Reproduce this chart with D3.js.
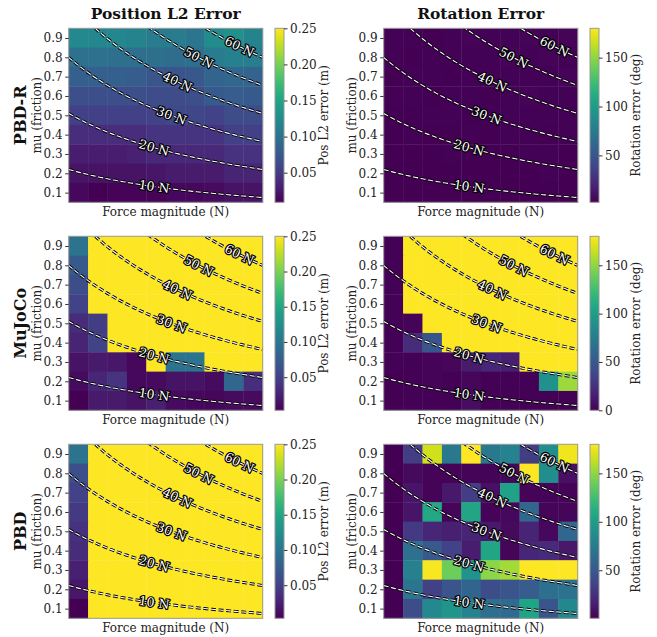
<!DOCTYPE html>
<html>
<head>
<meta charset="utf-8">
<script src="https://cdn.jsdelivr.net/npm/d3@7"></script>
<style>
  body { margin: 0; background: #fff; }
  text { font-family: "DejaVu Serif", serif; }
</style>
</head>
<body>
<script>
// friction rows, top (0.9) to bottom (0.1)
const muRows = [0.9, 0.8, 0.7, 0.6, 0.5, 0.4, 0.3, 0.2, 0.1];
// force magnitude bins (no tick labels on the x axis)
const forceBins = [0, 1, 2, 3, 4, 5, 6, 7, 8, 9];
const muTicks = [0.1, 0.2, 0.3, 0.4, 0.5, 0.6, 0.7, 0.8, 0.9];
const posTicks = [0.05, 0.10, 0.15, 0.20, 0.25];
const rotTicks = [0, 50, 100, 150];
const contourLevels = [10, 20, 30, 40, 50, 60];
// where each contour label sits, as a fraction of the force axis
const labelAt = [0.44, 0.44, 0.53, 0.56, 0.67, 0.88];

const methods = ["PBD-R", "MuJoCo", "PBD"];
const posMax = 0.25, rotMax = 180;

// position L2 error (m); values above 0.25 are saturated
const posPBDR = [
  [0.122, 0.120, 0.120, 0.117, 0.108, 0.108, 0.103, 0.125, 0.130, 0.117],
  [0.098, 0.098, 0.096, 0.096, 0.096, 0.093, 0.096, 0.108, 0.113, 0.110],
  [0.081, 0.081, 0.081, 0.079, 0.072, 0.072, 0.074, 0.086, 0.089, 0.086],
  [0.067, 0.067, 0.067, 0.067, 0.064, 0.064, 0.067, 0.076, 0.079, 0.076],
  [0.055, 0.055, 0.055, 0.055, 0.057, 0.062, 0.060, 0.057, 0.064, 0.064],
  [0.040, 0.040, 0.040, 0.040, 0.045, 0.045, 0.045, 0.045, 0.055, 0.055],
  [0.028, 0.028, 0.028, 0.031, 0.036, 0.036, 0.036, 0.036, 0.043, 0.043],
  [0.021, 0.021, 0.021, 0.021, 0.023, 0.026, 0.026, 0.026, 0.033, 0.033],
  [0.014, 0.009, 0.011, 0.011, 0.011, 0.014, 0.014, 0.016, 0.021, 0.021]
];
const posMuJoCo = [
  [0.097, 0.42, 0.45, 0.47, 0.50, 0.52, 0.55, 0.58, 0.60, 0.62],
  [0.072, 0.38, 0.41, 0.44, 0.47, 0.50, 0.52, 0.55, 0.57, 0.60],
  [0.060, 0.35, 0.38, 0.41, 0.44, 0.46, 0.49, 0.52, 0.54, 0.57],
  [0.052, 0.32, 0.35, 0.38, 0.40, 0.43, 0.46, 0.48, 0.51, 0.53],
  [0.033, 0.047, 0.31, 0.34, 0.37, 0.40, 0.42, 0.45, 0.48, 0.50],
  [0.028, 0.052, 0.28, 0.31, 0.34, 0.36, 0.39, 0.42, 0.44, 0.47],
  [0.015, 0.020, 0.018, 0.008, 0.27, 0.097, 0.097, 0.36, 0.39, 0.41],
  [0.010, 0.030, 0.040, 0.008, 0.010, 0.015, 0.015, 0.010, 0.085, 0.035],
  [0.003, 0.020, 0.020, 0.015, 0.025, 0.010, 0.008, 0.007, 0.010, 0.010]
];
const posPBD = [
  [0.097, 0.45, 0.48, 0.50, 0.53, 0.55, 0.58, 0.60, 0.63, 0.65],
  [0.062, 0.43, 0.46, 0.48, 0.51, 0.53, 0.56, 0.58, 0.61, 0.63],
  [0.052, 0.41, 0.44, 0.46, 0.49, 0.51, 0.54, 0.56, 0.59, 0.61],
  [0.045, 0.40, 0.42, 0.45, 0.47, 0.50, 0.52, 0.55, 0.57, 0.60],
  [0.038, 0.38, 0.41, 0.43, 0.46, 0.48, 0.51, 0.53, 0.56, 0.58],
  [0.033, 0.37, 0.39, 0.42, 0.44, 0.47, 0.49, 0.52, 0.54, 0.57],
  [0.025, 0.35, 0.38, 0.40, 0.43, 0.45, 0.48, 0.50, 0.53, 0.55],
  [0.018, 0.34, 0.36, 0.39, 0.41, 0.44, 0.46, 0.49, 0.51, 0.54],
  [0.003, 0.32, 0.35, 0.37, 0.40, 0.42, 0.45, 0.47, 0.50, 0.52]
];

// rotation error (deg)
const rotPBDR = [
  [3, 3, 2, 3, 4, 3, 3, 4, 3, 4],
  [3, 2, 3, 3, 3, 3, 4, 3, 4, 3],
  [2, 3, 3, 2, 3, 3, 3, 3, 3, 4],
  [3, 3, 2, 3, 3, 2, 3, 4, 3, 3],
  [2, 2, 3, 3, 2, 3, 3, 3, 3, 3],
  [2, 3, 2, 2, 3, 2, 3, 3, 2, 3],
  [2, 2, 2, 3, 2, 2, 2, 3, 3, 2],
  [2, 2, 2, 2, 2, 2, 2, 2, 3, 2],
  [2, 2, 2, 2, 2, 2, 2, 2, 2, 2]
];
const rotMuJoCo = [
  [1, 180, 180, 180, 180, 180, 180, 180, 180, 180],
  [1, 180, 180, 180, 180, 180, 180, 180, 180, 180],
  [1, 180, 180, 180, 180, 180, 180, 180, 180, 180],
  [1, 180, 180, 180, 180, 180, 180, 180, 180, 180],
  [1, 2, 180, 180, 180, 180, 180, 180, 180, 180],
  [1, 22, 48, 180, 180, 180, 180, 180, 180, 180],
  [1, 1, 2, 3, 13, 19, 15, 180, 180, 180],
  [0, 1, 2, 1, 3, 1, 1, 1, 90, 153],
  [0, 1, 1, 1, 6, 1, 1, 1, 1, 1]
];
const rotPBD = [
  [0.8, 32, 167, 72, 180, 72, 79, 32, 88, 176],
  [0.6, 5, 2, 2, 2, 2, 4, 180, 88, 8],
  [0.9, 10, 2, 12, 32, 8, 104, 2, 2, 2],
  [0.5, 10, 108, 3, 106, 2, 4, 60, 3, 3],
  [0.7, 30, 20, 16, 18, 12, 5, 18, 4, 60],
  [0.4, 67, 50, 36, 14, 106, 3, 20, 22, 12],
  [0.6, 78, 178, 140, 93, 149, 155, 180, 180, 180],
  [0.5, 70, 35, 48, 58, 42, 48, 53, 66, 68],
  [0.4, 42, 85, 94, 80, 65, 62, 105, 47, 84]
];

const panels = [
  [{ data: posPBDR, max: posMax, ticks: posTicks, fmt: ".2f", label: "Pos L2 error (m)" },
   { data: rotPBDR, max: rotMax, ticks: rotTicks, fmt: "d", label: "Rotation error (deg)" }],
  [{ data: posMuJoCo, max: posMax, ticks: posTicks, fmt: ".2f", label: "Pos L2 error (m)" },
   { data: rotMuJoCo, max: rotMax, ticks: rotTicks, fmt: "d", label: "Rotation error (deg)" }],
  [{ data: posPBD, max: posMax, ticks: posTicks, fmt: ".2f", label: "Pos L2 error (m)" },
   { data: rotPBD, max: rotMax, ticks: rotTicks, fmt: "d", label: "Rotation error (deg)" }]
];

// contour of the force needed, over friction and normalised force position
function contourMu(level, s) {
  return level / (34.5 * (1 + s)) - 0.07;
}

const plotW = 194, plotH = 174;
const colX = [68.7, 383.7];
const rowY = [28.3, 236.3, 444.3];
const cbGap = 206.3, cbW = 9;
const cbLabelOff = [49, 46];

const svg = d3.select("body").append("svg")
  .attr("width", 657).attr("height", 637);

const defs = svg.append("defs");
const grad = defs.append("linearGradient").attr("id", "viridis")
  .attr("x1", 0).attr("y1", 1).attr("x2", 0).attr("y2", 0);
d3.range(0, 1.0001, 0.05).forEach(t => {
  grad.append("stop").attr("offset", t).attr("stop-color", d3.interpolateViridis(t));
});

const x = d3.scaleBand().domain(forceBins).range([0, plotW]);
const yBand = d3.scaleBand().domain(muRows).range([0, plotH]);
const y = d3.scaleLinear().domain([0.05, 0.95]).range([plotH, 0]);
const s = d3.scaleLinear().domain([0, 1]).range([0, plotW]);

// column titles
["Position L2 Error", "Rotation Error"].forEach((t, c) => {
  svg.append("text").attr("x", colX[c] + plotW / 2).attr("y", 19)
    .attr("text-anchor", "middle").attr("font-size", 15.5).attr("font-weight", "bold")
    .attr("fill", "#111").text(t);
});

panels.forEach((row, r) => {
  row.forEach((p, c) => {
    const g = svg.append("g").attr("transform", `translate(${colX[c]},${rowY[r]})`);
    const vmin = d3.min(p.data.flat());
    const norm = d3.scaleLinear().domain([vmin, p.max]).range([0, 1]).clamp(true);
    const color = v => d3.interpolateViridis(norm(v));

    const clipId = `clip-${r}-${c}`;
    defs.append("clipPath").attr("id", clipId)
      .append("rect").attr("width", plotW).attr("height", plotH);

    // cells
    const cells = [];
    p.data.forEach((vals, i) => vals.forEach((v, j) => cells.push({ mu: muRows[i], f: forceBins[j], v })));
    g.append("g").selectAll("rect").data(cells).join("rect")
      .attr("x", d => x(d.f)).attr("y", d => yBand(d.mu))
      .attr("width", x.bandwidth() + 0.4).attr("height", yBand.bandwidth() + 0.4)
      .attr("fill", d => color(d.v));

    // contours
    const cg = g.append("g").attr("clip-path", `url(#${clipId})`);
    const line = d3.line().x(d => s(d[0])).y(d => y(d[1]));
    contourLevels.forEach(level => {
      const pts = d3.range(0, 1.0001, 0.01).map(t => [t, contourMu(level, t)]);
      cg.append("path").attr("d", line(pts)).attr("fill", "none")
        .attr("stroke", "#000").attr("stroke-width", 3).attr("stroke-dasharray", "5,2.6");
      cg.append("path").attr("d", line(pts)).attr("fill", "none")
        .attr("stroke", "#fff").attr("stroke-width", 1.1).attr("stroke-dasharray", "5,2.6");
    });
    contourLevels.forEach((level, k) => {
      const t = labelAt[k];
      const px = s(t), py = y(contourMu(level, t));
      const dx = s(t + 0.02) - s(t - 0.02);
      const dy = y(contourMu(level, t + 0.02)) - y(contourMu(level, t - 0.02));
      const ang = Math.atan2(dy, dx) * 180 / Math.PI;
      g.append("text").attr("transform", `translate(${px},${py}) rotate(${ang})`)
        .attr("text-anchor", "middle").attr("dy", "0.35em").attr("font-size", 12.5)
        .attr("fill", "#fff").attr("stroke", "#000").attr("stroke-width", 2.4)
        .attr("stroke-linejoin", "round").attr("paint-order", "stroke")
        .text(`${level} N`);
    });

    // frame
    g.append("rect").attr("width", plotW).attr("height", plotH)
      .attr("fill", "none").attr("stroke", "#999").attr("stroke-width", 1);

    // y axis
    const ya = g.append("g").call(d3.axisLeft(y).tickValues(muTicks).tickSize(3.5).tickPadding(2.5).tickFormat(d3.format(".1f")));
    ya.select(".domain").remove();
    ya.selectAll("line").attr("stroke", "#333");
    ya.selectAll("text").attr("font-size", 12).attr("fill", "#222").style("font-family", "DejaVu Serif");

    g.append("text").attr("transform", `translate(${-32},${plotH / 2}) rotate(-90)`)
      .attr("text-anchor", "middle").attr("dy", "0.35em").attr("font-size", 12)
      .attr("fill", "#222").text("mu (friction)");
    if (c === 0) {
      g.append("text").attr("transform", `translate(${-48},${plotH / 2}) rotate(-90)`)
        .attr("text-anchor", "middle").attr("dy", "0.35em").attr("font-size", 16)
        .attr("font-weight", "bold").attr("fill", "#111").text(methods[r]);
    }
    g.append("text").attr("x", plotW / 2).attr("y", plotH + 13.5)
      .attr("text-anchor", "middle").attr("font-size", 12).attr("fill", "#222")
      .text("Force magnitude (N)");

    // colorbar
    const cb = g.append("g").attr("transform", `translate(${cbGap},0)`);
    cb.append("rect").attr("width", cbW).attr("height", plotH).attr("fill", "url(#viridis)");
    cb.append("rect").attr("width", cbW).attr("height", plotH)
      .attr("fill", "none").attr("stroke", "#999").attr("stroke-width", 1);
    const cbScale = d3.scaleLinear().domain([vmin, p.max]).range([plotH, 0]);
    const ticks = p.ticks.filter(t => t >= vmin - 1e-9 && t <= p.max + 1e-9);
    const ca = cb.append("g").attr("transform", `translate(${cbW},0)`)
      .call(d3.axisRight(cbScale).tickValues(ticks).tickSize(3.5).tickPadding(2.5).tickFormat(d3.format(p.fmt)));
    ca.select(".domain").remove();
    ca.selectAll("line").attr("stroke", "#333");
    ca.selectAll("text").attr("font-size", 12).attr("fill", "#222").style("font-family", "DejaVu Serif");
    cb.append("text").attr("transform", `translate(${cbLabelOff[c]},${plotH / 2}) rotate(-90)`)
      .attr("text-anchor", "middle").attr("dy", "0.35em").attr("font-size", 12)
      .attr("fill", "#222").text(p.label);
  });
});
</script>
</body>
</html>
